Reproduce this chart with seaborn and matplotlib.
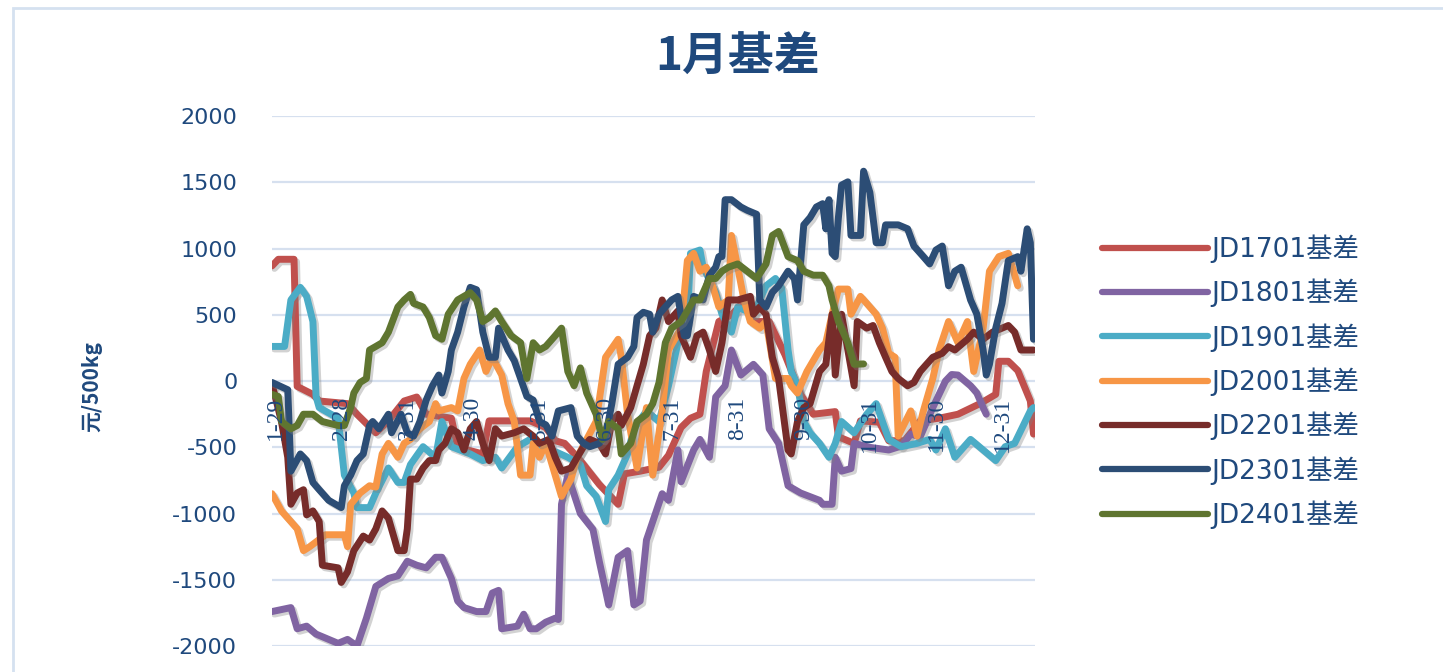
import matplotlib
matplotlib.use("Agg")
import matplotlib.pyplot as plt
import matplotlib.patheffects as pe
from matplotlib.patches import Rectangle
import seaborn as sns
import pandas as pd

# ---------------- data (trading-day index, basis in 元/500kg) ----------------
contracts = ["JD1701基差", "JD1801基差", "JD1901基差", "JD2001基差",
             "JD2201基差", "JD2301基差", "JD2401基差"]
colors = ["#C0504D", "#8064A2", "#4BACC6", "#F79646", "#772C2A", "#2C4D75", "#5F7530"]

tick_pos = [1, 22, 43, 64, 85, 106, 127, 148, 169, 190, 211, 232]
tick_labels = ["1-29", "2-28", "3-31", "4-30", "5-31", "6-30", "7-31",
               "8-31", "9-30", "10-31", "11-30", "12-31"]

x_1701 = [0, 2, 7, 8, 13, 15, 24, 27, 33, 37, 42, 46, 49, 57, 59, 67, 69, 82, 87, 90,
          93, 98, 104, 110, 112, 117, 123, 126, 130, 133, 136, 138, 142, 146, 150, 153,
          158, 163, 168, 172, 179, 180, 185, 187, 193, 196, 201, 206, 212, 218, 225, 230,
          231, 234, 237, 241, 242]
y_1701 = [870, 920, 920, -40, -100, -150, -170, -250, -390, -300, -150, -120, -250, -280,
          -500, -550, -300, -300, -350, -450, -470, -600, -780, -930, -700, -680, -650,
          -560, -350, -280, -250, 73, 450, 500, 600, 450, 450, 200, -100, -250, -230, -420,
          -470, -300, -310, -450, -450, -300, -280, -250, -170, -100, 150, 150, 80, -150, -400]

x_1801 = [0, 6, 8, 11, 14, 21, 24, 27, 30, 33, 37, 40, 43, 46, 49, 52, 54, 57, 59, 61,
          65, 68, 70, 72, 73, 78, 80, 82, 84, 87, 90, 91, 92, 94, 98, 102, 104, 107, 110,
          113, 115, 117, 119, 121, 124, 126, 129, 130, 134, 136, 139, 141, 144, 146, 149,
          153, 156, 158, 161, 164, 168, 174, 175, 178, 179, 181, 184, 185, 190, 196, 200,
          203, 206, 210, 214, 216, 218, 222, 224, 226, 227]
y_1801 = [-1740, -1710, -1870, -1850, -1910, -1980, -1950, -2000, -1790, -1550, -1490,
          -1470, -1360, -1390, -1410, -1330, -1330, -1490, -1660, -1710, -1740, -1740,
          -1600, -1580, -1870, -1850, -1760, -1870, -1870, -1820, -1790, -1800, -930, -710,
          -1000, -1120, -1360, -1690, -1330, -1280, -1690, -1660, -1200, -1060, -850, -900,
          -520, -760, -520, -440, -575, -120, -35, 235, 46, 127, 46, -360, -470, -790, -845,
          -900, -930, -930, -575, -680, -660, -470, -500, -520, -490, -400, -420, -200, 0,
          50, 46, -35, -90, -200, -250]

x_1901 = [0, 4, 6, 9, 11, 13, 14, 15, 21, 23, 26, 27, 31, 33, 37, 40, 42, 44, 48, 52,
          54, 57, 63, 67, 71, 73, 78, 82, 87, 94, 98, 100, 103, 106, 107, 110, 113, 115,
          119, 123, 126, 129, 132, 133, 136, 137, 141, 143, 146, 148, 153, 157, 160, 162,
          164, 165, 167, 169, 171, 174, 177, 179, 181, 185, 189, 192, 196, 200, 205, 209,
          211, 214, 217, 222, 226, 230, 233, 236, 241, 242]
y_1901 = [262, 262, 613, 708, 640, 450, -116, -200, -280, -710, -845, -955, -955, -845,
          -656, -765, -765, -630, -495, -575, -305, -495, -550, -600, -575, -656, -495,
          -440, -500, -575, -630, -790, -870, -1060, -820, -710, -550, -360, -225, -305,
          -35, 290, 450, 965, 990, 860, 670, 505, 370, 560, 505, 720, 775, 700, 235, 73,
          -35, -305, -390, -470, -575, -470, -305, -390, -250, -170, -440, -495, -470,
          -440, -520, -360, -575, -440, -520, -600, -495, -470, -225, -200]

x_2001 = [0, 3, 8, 10, 12, 17, 23, 24, 25, 28, 31, 33, 35, 37, 40, 42, 44, 47, 50, 52,
          53, 57, 59, 61, 63, 66, 68, 70, 73, 75, 77, 79, 82, 83, 85, 87, 89, 92, 95, 97,
          100, 103, 106, 110, 111, 113, 116, 119, 121, 124, 126, 130, 132, 134, 136, 138,
          140, 142, 145, 146, 148, 150, 152, 155, 157, 160, 164, 165, 167, 170, 174, 176,
          178, 180, 183, 184, 187, 189, 192, 194, 196, 198, 199, 203, 205, 207, 210, 212,
          215, 218, 221, 223, 226, 228, 231, 234, 237]
y_2001 = [-850, -980, -1115, -1280, -1250, -1160, -1160, -1250, -930, -845, -790, -800,
          -550, -470, -575, -470, -440, -360, -305, -170, -225, -200, -225, 20, 127, 235,
          73, 180, 46, -170, -305, -710, -710, -470, -575, -470, -630, -870, -740, -575,
          -440, -305, 180, 316, 180, -250, -656, -200, -710, -225, 235, 400, 910, 965, 830,
          860, 720, 560, 613, 1100, 860, 613, 450, 400, 450, 20, 20, -35, -90, 73, 235, 290,
          505, 695, 695, 505, 640, 587, 505, 400, 210, 180, -415, -225, -415, -225, 20, 235,
          450, 290, 450, 73, 400, 830, 940, 965, 720]

x_2201 = [0, 3, 5, 6, 8, 10, 11, 13, 15, 16, 21, 22, 24, 26, 29, 31, 33, 35, 37, 40,
          42, 43, 44, 46, 48, 50, 52, 53, 55, 57, 59, 61, 63, 65, 67, 69, 71, 73, 77, 80,
          83, 85, 88, 90, 92, 95, 97, 99, 101, 104, 106, 108, 110, 111, 114, 116, 118, 120,
          122, 124, 126, 129, 130, 133, 135, 137, 139, 141, 143, 145, 148, 152, 153, 155,
          157, 159, 161, 164, 165, 167, 169, 171, 174, 176, 178, 179, 181, 183, 185, 186,
          189, 191, 193, 195, 197, 199, 202, 204, 206, 208, 210, 213, 215, 217, 221, 223,
          226, 229, 232, 234, 236, 238, 242]
y_2201 = [-20, -305, -575, -930, -845, -820, -1010, -980, -1060, -1390, -1410, -1520,
          -1440, -1280, -1170, -1200, -1115, -980, -1035, -1280, -1280, -1115, -740, -740,
          -656, -600, -600, -520, -470, -360, -390, -520, -360, -305, -470, -600, -360,
          -415, -390, -360, -415, -470, -440, -575, -680, -656, -575, -495, -440, -470,
          -550, -305, -250, -335, -200, -35, 127, 343, 400, 613, 450, 530, 343, 180, 343,
          370, 235, 73, 290, 613, 613, 640, 505, 560, 505, 180, 20, -520, -550, -305, -200,
          -170, 73, 127, 505, 46, 505, 235, -35, 450, 400, 420, 290, 180, 73, 20, -35, -10,
          73, 127, 180, 210, 260, 235, 316, 370, 316, 370, 400, 420, 370, 235, 235]

x_2301 = [0, 5, 6, 9, 11, 13, 15, 18, 22, 23, 25, 27, 29, 31, 32, 34, 37, 38, 41, 43,
          45, 47, 49, 51, 53, 54, 56, 57, 59, 61, 63, 65, 67, 69, 71, 72, 75, 77, 79, 81,
          83, 85, 87, 89, 91, 95, 97, 99, 101, 104, 106, 108, 110, 113, 115, 116, 118, 120,
          121, 123, 125, 127, 129, 131, 132, 134, 137, 139, 141, 142, 143, 144, 146, 149,
          151, 154, 155, 157, 159, 161, 164, 166, 167, 169, 171, 173, 175, 176, 177, 178,
          179, 180, 181, 183, 184, 187, 188, 190, 192, 194, 195, 199, 202, 204, 207, 209,
          211, 213, 215, 217, 219, 222, 224, 226, 227, 228, 230, 232, 234, 237, 238, 240,
          241, 242]
y_2301 = [-10, -65, -680, -550, -600, -765, -820, -900, -955, -790, -710, -600, -550,
          -335, -305, -360, -250, -390, -250, -390, -415, -305, -143, -35, 46, -90, 73, 235,
          370, 560, 708, 690, 370, 180, 180, 400, 235, 154, 20, -116, -143, -305, -330,
          -415, -225, -200, -415, -470, -495, -470, -415, -170, 127, 180, 262, 480, 520,
          505, 370, 505, 560, 613, 640, 343, 343, 640, 613, 800, 860, 940, 940, 1370, 1370,
          1315, 1290, 1260, 613, 560, 670, 720, 830, 775, 613, 1180, 1235, 1315, 1340, 1150,
          1370, 965, 940, 1235, 1480, 1505, 1100, 1100, 1585, 1425, 1045, 1045, 1180, 1180,
          1150, 1020, 940, 885, 990, 1020, 720, 830, 860, 613, 505, 235, 46, 127, 400, 587,
          910, 940, 830, 1150, 1045, 316]

x_2401 = [0, 2, 3, 6, 8, 10, 13, 16, 21, 23, 25, 26, 28, 30, 31, 33, 35, 37, 40, 42,
          44, 45, 48, 50, 52, 54, 56, 59, 63, 65, 67, 69, 71, 73, 76, 79, 81, 83, 85, 87,
          90, 92, 94, 96, 98, 100, 103, 105, 107, 110, 111, 114, 116, 119, 121, 123, 125,
          127, 130, 134, 136, 139, 141, 143, 145, 148, 151, 154, 157, 159, 161, 164, 167,
          169, 172, 175, 177, 178, 180, 183, 185, 188]
y_2401 = [-100, -116, -305, -360, -335, -250, -250, -305, -335, -335, -200, -90, -10, 20,
          235, 262, 290, 370, 560, 613, 655, 587, 560, 480, 343, 316, 505, 613, 668, 613,
          450, 480, 530, 450, 343, 290, 20, 290, 235, 262, 343, 400, 73, -35, 100, -90,
          -250, -440, -305, -360, -550, -470, -305, -250, -170, -10, 290, 400, 450, 613,
          613, 775, 775, 830, 860, 885, 830, 775, 885, 1100, 1130, 940, 910, 830, 800, 800,
          720, 613, 450, 290, 127, 130]

series_x = [x_1701, x_1801, x_1901, x_2001, x_2201, x_2301, x_2401]
series_y = [y_1701, y_1801, y_1901, y_2001, y_2201, y_2301, y_2401]

frames = []
for name, xs, ys in zip(contracts, series_x, series_y):
    frames.append(pd.DataFrame({"day": xs, "basis": ys, "contract": name}))
df = pd.concat(frames, ignore_index=True)

# ---------------- style ----------------
sns.set_theme(style="white")
plt.rcParams["font.family"] = ["DejaVu Sans", "Noto Sans CJK SC"]
plt.rcParams["axes.unicode_minus"] = False
navy = "#1F497D"

fig = plt.figure(figsize=(14.43, 6.72), dpi=100)
ax = fig.add_axes([0.1885, 0.0387, 0.5288, 0.7883])

sns.lineplot(data=df, x="day", y="basis", hue="contract", hue_order=contracts,
             palette=colors, estimator=None, sort=False, linewidth=5.0,
             legend=False, ax=ax)

for ln in ax.lines:
    ln.set_solid_joinstyle("round")
    ln.set_solid_capstyle("round")
    ln.set_path_effects([pe.SimpleLineShadow(offset=(1.8, -1.8), shadow_color="#7f7f7f", alpha=0.35),
                         pe.Normal()])

# spines first (moving a spine resets tick styling)
for s in ax.spines.values():
    s.set_visible(False)
ax.spines["bottom"].set_position(("data", 0))

ax.set_xlim(0, 242.5)
ax.set_ylim(-2000, 2000)
ax.set_yticks(range(-2000, 2001, 500))
ax.set_xticks(tick_pos)
ax.set_xticklabels(tick_labels)
ax.tick_params(axis="x", length=0, pad=11, labelrotation=90, labelsize=17,
               labelcolor=navy)
for t in ax.get_xticklabels():
    t.set_family(["Liberation Serif"])
ax.tick_params(axis="y", length=0, pad=25, labelsize=16, labelcolor=navy)
ax.xaxis.set_zorder(5)

ax.grid(axis="y", color="#D6E0EF", linewidth=1.6)
ax.grid(axis="x", visible=False)
ax.set_xlabel("")
ax.set_ylabel("元/500kg", fontsize=15, fontweight="bold", color=navy,
              family=["Noto Sans CJK SC", "DejaVu Sans"], va="center", ha="center")
ax.yaxis.set_label_coords(-0.236, 0.49)

fig.text(0.511, 0.914, "1月基差", fontsize=33, fontweight="bold", color=navy,
         ha="center", va="center", family=["Noto Sans CJK SC", "DejaVu Sans"])

leg = ax.legend(ax.lines, contracts, loc="center left",
                bbox_to_anchor=(0.7637, 0.432), bbox_transform=fig.transFigure,
                frameon=False, fontsize=19, handlelength=4.0, handletextpad=0.15,
                labelspacing=0.6, borderpad=0, borderaxespad=0)
for t in leg.get_texts():
    t.set_color(navy)
for h in leg.legend_handles:
    h.set_path_effects([])
    h.set_linewidth(4.5)

fig.patches.append(Rectangle((13 / 1443, -0.1), 1.2, 1 - 8 / 672 + 0.1,
                             transform=fig.transFigure, fill=False,
                             edgecolor="#D5E1F0", linewidth=2))

fig.savefig("out.png", dpi=100, facecolor="white")
